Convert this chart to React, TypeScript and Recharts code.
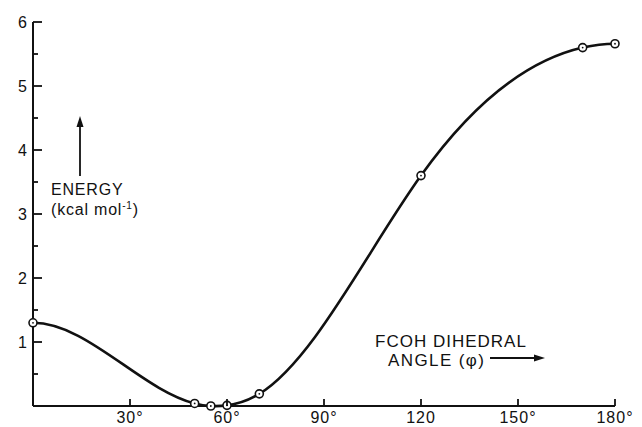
import { LineChart, Line, XAxis, YAxis } from 'recharts';

// dihedral angle (deg) vs relative energy (kcal/mol)
const ANGLES = [0, 50, 55, 60, 70, 120, 170, 180];
const ENERGIES = [1.3, 0.04, 0, 0.01, 0.19, 3.6, 5.6, 5.66];

const X_TICKS = [30, 60, 90, 120, 150, 180];
const X_TICK_LABELS = ['30°', '60°', '90°', '120', '150°', '180°'];
const Y_TICKS = [0.5, 1, 1.5, 2, 2.5, 3, 3.5, 4, 4.5, 5, 5.5, 6];

const chartData = ANGLES.map((a, i) => ({ angle: a, energy: ENERGIES[i] }));

const FONT = '"Liberation Sans", Arial, sans-serif';
const INK = '#111';

// cubic spline y(x) through the points, flat at both ends (like a french curve)
const flatSpline = (context: any) => {
  let xs: number[] = [];
  let ys: number[] = [];
  return {
    areaStart() {},
    areaEnd() {},
    lineStart() {
      xs = [];
      ys = [];
    },
    point(x: number, y: number) {
      xs.push(+x);
      ys.push(+y);
    },
    lineEnd() {
      const n = xs.length;
      if (!n) return;
      context.moveTo(xs[0], ys[0]);
      if (n < 2) return;
      const h: number[] = [];
      const d: number[] = [];
      for (let i = 0; i < n - 1; i++) {
        h.push(xs[i + 1] - xs[i]);
        d.push((ys[i + 1] - ys[i]) / h[i]);
      }
      const a = new Array(n).fill(0);
      const b = new Array(n).fill(0);
      const c = new Array(n).fill(0);
      const r = new Array(n).fill(0);
      b[0] = 2 * h[0];
      c[0] = h[0];
      r[0] = 6 * d[0];
      for (let i = 1; i < n - 1; i++) {
        a[i] = h[i - 1];
        b[i] = 2 * (h[i - 1] + h[i]);
        c[i] = h[i];
        r[i] = 6 * (d[i] - d[i - 1]);
      }
      a[n - 1] = h[n - 2];
      b[n - 1] = 2 * h[n - 2];
      r[n - 1] = -6 * d[n - 2];
      for (let i = 1; i < n; i++) {
        const w = a[i] / b[i - 1];
        b[i] -= w * c[i - 1];
        r[i] -= w * r[i - 1];
      }
      const M = new Array(n).fill(0);
      M[n - 1] = r[n - 1] / b[n - 1];
      for (let i = n - 2; i >= 0; i--) M[i] = (r[i] - c[i] * M[i + 1]) / b[i];
      const m: number[] = [];
      for (let i = 0; i < n - 1; i++) m.push(d[i] - (h[i] * (2 * M[i] + M[i + 1])) / 6);
      m.push(d[n - 2] + (h[n - 2] * (M[n - 2] + 2 * M[n - 1])) / 6);
      for (let i = 0; i < n - 1; i++) {
        const t = h[i] / 3;
        context.bezierCurveTo(
          xs[i] + t, ys[i] + m[i] * t,
          xs[i + 1] - t, ys[i + 1] - m[i + 1] * t,
          xs[i + 1], ys[i + 1],
        );
      }
    },
  };
};

const YTick = (props: any) => {
  const { x, y, payload } = props;
  const v = payload.value;
  const major = Number.isInteger(v);
  return (
    <g>
      <line x1={x} x2={x + (major ? 9 : 5)} y1={y} y2={y} stroke={INK} strokeWidth={1.8} />
      {major && (
        <text x={x - 6} y={y} dy={6} textAnchor="end" fontSize={16} fontFamily={FONT} fill={INK}>
          {v}
        </text>
      )}
    </g>
  );
};

const XTick = (props: any) => {
  const { x, y, payload } = props;
  const idx = X_TICKS.indexOf(payload.value);
  return (
    <g>
      <line x1={x} x2={x} y1={y} y2={y - 7} stroke={INK} strokeWidth={1.8} />
      <text x={x} y={y + 17} textAnchor="middle" fontSize={16} letterSpacing={1} fontFamily={FONT} fill={INK}>
        {X_TICK_LABELS[idx]}
      </text>
    </g>
  );
};

const OpenDot = (props: any) => {
  const { cx, cy, index } = props;
  return (
    <g key={`dot-${index}`}>
      <circle cx={cx} cy={cy} r={4} fill="#fff" stroke={INK} strokeWidth={1.6} />
      <circle cx={cx} cy={cy} r={0.9} fill={INK} />
    </g>
  );
};

export default function App() {
  return (
    <div style={{ position: 'relative', width: 642, height: 427, background: '#fff' }}>
      <style>{'body{margin:0}'}</style>
      <LineChart
        width={642}
        height={427}
        data={chartData}
        margin={{ top: 22, right: 27, left: 0, bottom: 0 }}
      >
        <XAxis
          dataKey="angle"
          type="number"
          domain={[0, 180]}
          ticks={X_TICKS}
          interval={0}
          height={21}
          tickLine={false}
          tickSize={0}
          tickMargin={0}
          tick={<XTick />}
          axisLine={{ stroke: INK, strokeWidth: 2 }}
        />
        <YAxis
          type="number"
          domain={[0, 6]}
          ticks={Y_TICKS}
          interval={0}
          width={33}
          tickLine={false}
          tickSize={0}
          tickMargin={0}
          tick={<YTick />}
          axisLine={{ stroke: INK, strokeWidth: 2 }}
        />
        <Line
          dataKey="energy"
          type={flatSpline as any}
          stroke={INK}
          strokeWidth={2.6}
          dot={OpenDot}
          activeDot={false}
          isAnimationActive={false}
        />
      </LineChart>
      <svg
        width={642}
        height={427}
        style={{ position: 'absolute', left: 0, top: 0, pointerEvents: 'none' }}
        fontFamily={FONT}
        fill={INK}
      >
        <line x1={80} x2={80} y1={124} y2={176} stroke={INK} strokeWidth={1.8} />
        <polygon points="80,116 76.5,127 83.5,127" fill={INK} />
        <text x={51} y={195} fontSize={16} letterSpacing={0.8}>ENERGY</text>
        <text x={51} y={215} fontSize={16} letterSpacing={0.8}>
          (kcal mol<tspan dy={-6} fontSize={10}>-1</tspan><tspan dy={6}>)</tspan>
        </text>
        <text x={375} y={347} fontSize={17} letterSpacing={1}>FCOH DIHEDRAL</text>
        <text x={388} y={366} fontSize={17} letterSpacing={1.4}>ANGLE (φ)</text>
        <line x1={490} x2={536} y1={358} y2={358} stroke={INK} strokeWidth={1.8} />
        <polygon points="545,358 534,354.5 534,361.5" fill={INK} />
      </svg>
    </div>
  );
}
